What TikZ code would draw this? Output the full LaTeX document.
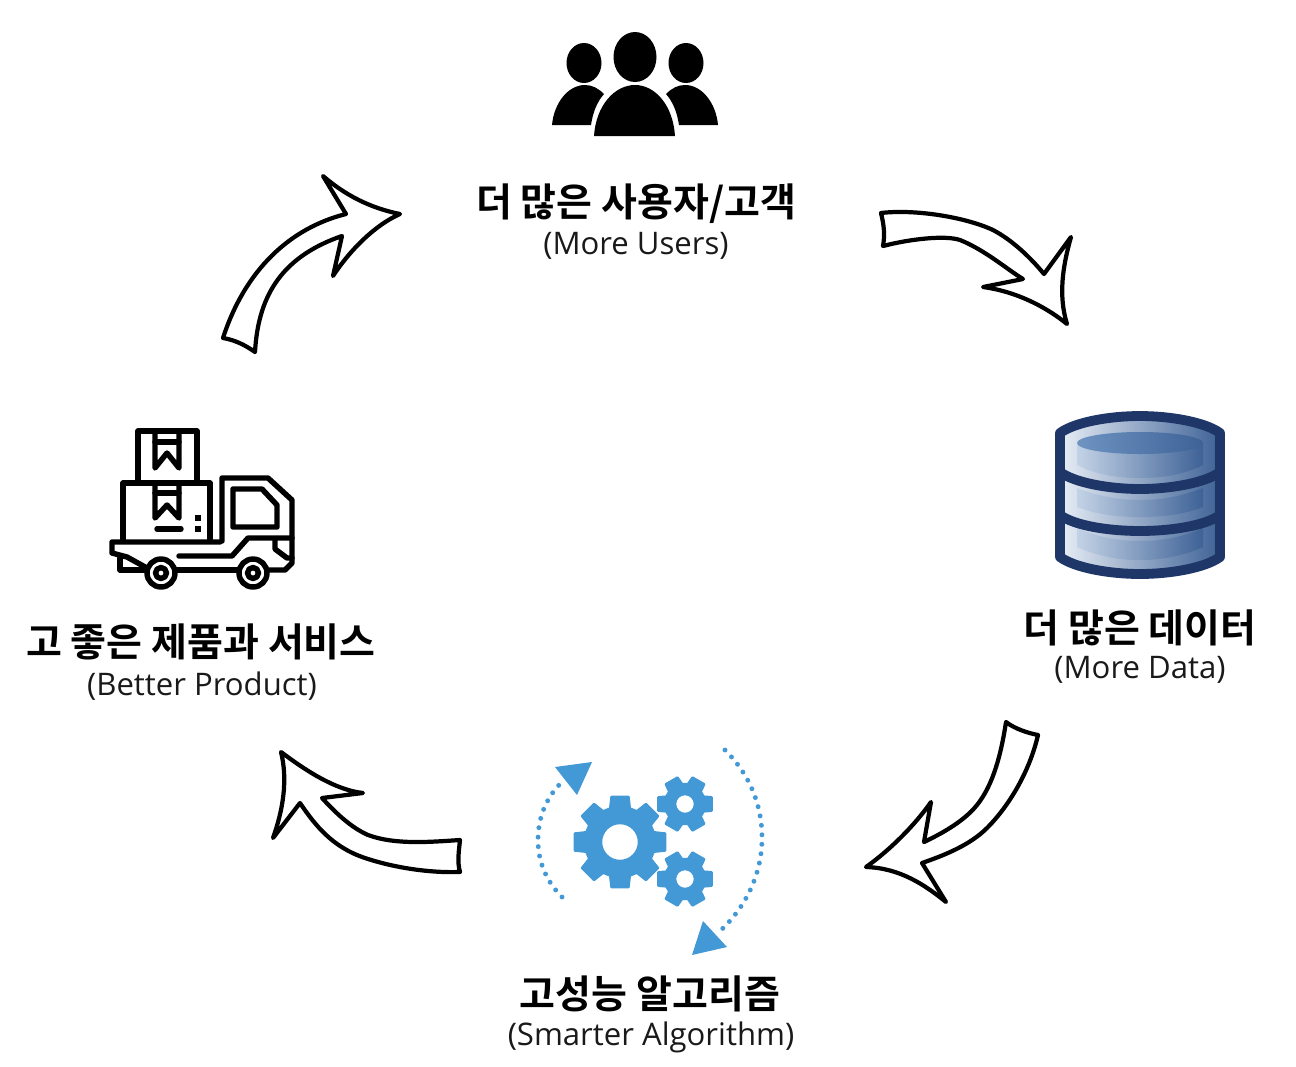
\documentclass[tikz,border=0pt]{standalone}
\usepackage{fontspec}
\usepackage{xcolor}
\setmainfont{Open Sans}
\newfontfamily\krfont{Noto Sans CJK KR}[BoldFont={* Bold}]
\usetikzlibrary{arrows.meta, positioning}
\definecolor{gearblue}{RGB}{67, 152, 214}
\definecolor{dbnavy}{RGB}{30, 54, 104}
\definecolor{dbdeep}{RGB}{62, 98, 150}
\definecolor{dbmid}{RGB}{110, 148, 194}
\definecolor{dbpale}{RGB}{232, 238, 246}
\newcommand{\gearpath}[6]{% cx, cy, tooth count, tip, root, hole
  \fill[gearblue, even odd rule, line join=round, draw=gearblue, line width=1.4pt, shift={(#1,#2)}]
    \foreach \i in {1,...,#3} {
      \ifnum\i=1 ({(\i-1)*360/#3-(130/#3)}:#5) \else -- ({(\i-1)*360/#3-(130/#3)}:#5) \fi
      -- ({(\i-1)*360/#3-(85/#3)}:#4) -- ({(\i-1)*360/#3+(85/#3)}:#4)
      -- ({(\i-1)*360/#3+(130/#3)}:#5)
    } -- cycle (0,0) circle[radius=#6];
}
\begin{document}
\begin{tikzpicture}[x=0.02cm, y=-0.02cm,
    title/.style={font=\krfont\bfseries\fontsize{22.2}{26}\selectfont, inner sep=0pt},
    subtitle/.style={font=\fontsize{17.7}{21}\selectfont, text=black!90, inner sep=0pt},
    blockarrow/.style={draw=black, fill=white, line width=2.4pt, line join=round},
    truckline/.style={draw=black, line width=3.1pt, line join=round, line cap=round},
    dbpanel/.style={left color=#1, right color=dbdeep, draw=none}]
  \useasboundingbox (0,0) rectangle (1296,1066);

  % users
  \fill (635,57) ellipse[x radius=21.5, y radius=25];
  \fill (584,63) ellipse[x radius=17.5, y radius=20];
  \fill (686,63) ellipse[x radius=17.5, y radius=20];
  \fill (594,136) .. controls (596,105) and (615,85) .. (635,85)
        .. controls (655,85) and (673,105) .. (675,136) -- cycle;
  \fill (552,125) .. controls (554,103) and (568,85) .. (585,85)
        .. controls (592,85) and (598,88) .. (604,94)
        .. controls (597,102) and (593,112) .. (591,125) -- cycle;
  \fill (718,125) .. controls (716,103) and (702,85) .. (685,85)
        .. controls (678,85) and (672,88) .. (666,94)
        .. controls (673,102) and (677,112) .. (679,125) -- cycle;
  \node[title] (userstitle) at (636,204) {더 많은 사용자/고객};
  \node[subtitle] (userssub) at (636,246) {(More Users)};

  % database
  \shade[left color=dbpale, right color=dbdeep]
    (1060,433) .. controls (1075,422) and (1110,416) .. (1140,416)
    .. controls (1170,416) and (1205,422) .. (1220,433) -- (1220,557)
    .. controls (1205,568) and (1170,574) .. (1140,574)
    .. controls (1110,574) and (1075,568) .. (1060,557) -- cycle;
  \shade[dbpanel=dbpale!70!dbmid] (1077,443) -- (1203,443) -- (1203,465)
    .. controls (1185,474) and (1165,478) .. (1140,478)
    .. controls (1115,478) and (1095,474) .. (1077,465) -- cycle;
  \shade[left color=dbmid, right color=dbdeep] (1140,443) ellipse[x radius=63, y radius=11];
  \shade[dbpanel=dbpale!70!dbmid] (1077,488) .. controls (1095,495) and (1115,500) .. (1140,500)
    .. controls (1165,500) and (1185,495) .. (1203,488) -- (1203,507)
    .. controls (1185,514) and (1165,517) .. (1140,517)
    .. controls (1115,517) and (1095,514) .. (1077,507) -- cycle;
  \shade[dbpanel=dbpale!70!dbmid] (1077,528) .. controls (1095,536) and (1115,541) .. (1140,541)
    .. controls (1165,541) and (1185,536) .. (1203,528) -- (1203,547)
    .. controls (1185,555) and (1165,560) .. (1140,560)
    .. controls (1115,560) and (1095,555) .. (1077,547) -- cycle;
  \draw[dbnavy, line width=5.6pt, line join=round]
    (1060,433) .. controls (1075,422) and (1110,416) .. (1140,416)
    .. controls (1170,416) and (1205,422) .. (1220,433) -- (1220,557)
    .. controls (1205,568) and (1170,574) .. (1140,574)
    .. controls (1110,574) and (1075,568) .. (1060,557) -- cycle;
  \draw[dbnavy, line width=5.6pt]
    (1060,472) .. controls (1075,483) and (1110,489) .. (1140,489)
    .. controls (1170,489) and (1205,483) .. (1220,472);
  \draw[dbnavy, line width=5.6pt]
    (1060,515) .. controls (1075,526) and (1110,531) .. (1140,531)
    .. controls (1170,531) and (1205,526) .. (1220,515);
  \node[title] (datatitle) at (1140,628) {더 많은 데이터};
  \node[subtitle] (datasub) at (1140,670) {(More Data)};

  % gears
  \gearpath{620}{842}{8}{46}{35}{19}
  \gearpath{685}{804}{6}{27.5}{20}{10}
  \gearpath{685}{879}{6}{27.5}{20}{10}
  \draw[gearblue, line width=2.8pt, line cap=round, dash pattern=on 0pt off 5.4pt]
    (562,897) .. controls (545,880) and (538,860) .. (538,840)
    .. controls (538,815) and (548,795) .. (563,781);
  \draw[gearblue, line width=2.8pt, line cap=round, dash pattern=on 0pt off 5.4pt]
    (725,750) .. controls (750,775) and (762,805) .. (762,838)
    .. controls (762,875) and (745,908) .. (720,931);
  \fill[gearblue] (555,767) -- (592,762) -- (577,795) -- cycle;
  \fill[gearblue] (703,921) -- (727,947) -- (692,955) -- cycle;
  \node[title] (algotitle) at (650,994) {고성능 알고리즘};
  \node[subtitle] (algosub) at (651,1037) {(Smarter Algorithm)};

  % truck
  \draw[truckline] (138,481) -- (138,431) -- (197,431) -- (197,481);
  \draw[truckline] (155,431) -- (155,468) -- (167,453) -- (179,468) -- (179,431);
  \draw[truckline] (155,442) -- (179,442);
  \draw[truckline] (123,539) -- (123,483) -- (210,483) -- (210,539);
  \draw[truckline] (155,485) -- (155,518) -- (167,505) -- (179,518) -- (179,485);
  \draw[truckline] (155,493) -- (179,493);
  \draw[truckline] (157,529) -- (181,529);
  \fill (195,515) rectangle (201,521);
  \fill (195,526) rectangle (201,532);
  \draw[truckline] (220,542) -- (112,542) -- (112,553) -- (127,557) -- (147,568);
  \draw[truckline] (120,558) -- (120,570) -- (147,570);
  \draw[truckline] (222,541) -- (222,478) -- (268,478) -- (292,500) -- (292,563) -- (285,570) -- (268,570);
  \draw[truckline] (233,489) -- (262,489) -- (277,505) -- (277,527) -- (233,527) -- cycle;
  \draw[truckline] (179,556) -- (232,556) -- (248,538) -- (292,538);
  \draw[truckline] (275,540) -- (275,549) -- (287,558) -- (292,558);
  \draw[truckline] (173,570) -- (238,570);
  \draw[truckline, fill=white] (161,573) circle[radius=14];
  \draw[truckline, fill=white] (253,573) circle[radius=14];
  \draw[truckline] (161,573) circle[radius=5.5];
  \draw[truckline] (253,573) circle[radius=5.5];
  \node[title] (trucktitle) at (201,642) {고 좋은 제품과 서비스};
  \node[subtitle] (trucksub) at (202,686) {(Better Product)};

  % hand drawn arrows
  \draw[blockarrow] (881,213) .. controls (915,209) and (965,217) .. (993,230)
    .. controls (1012,240) and (1030,257) .. (1044,274) -- (1071,237)
    .. controls (1063,265) and (1058,295) .. (1067,324)
    .. controls (1050,310) and (1020,292) .. (983,287) -- (1023,279)
    .. controls (1008,270) and (985,250) .. (960,240)
    .. controls (945,235) and (910,239) .. (883,246)
    .. controls (885,235) and (884,225) .. (881,213) -- cycle;
  \draw[blockarrow] (223,338) .. controls (235,340) and (245,345) .. (255,352)
    .. controls (258,300) and (278,258) .. (342,236) -- (333,276)
    .. controls (350,250) and (375,225) .. (400,214)
    .. controls (370,208) and (345,195) .. (323,176) -- (346,214)
    .. controls (290,228) and (245,270) .. (223,338) -- cycle;
  \draw[blockarrow] (1006,722) .. controls (1015,729) and (1028,733) .. (1038,735)
    .. controls (1030,770) and (1010,805) .. (987,828)
    .. controls (970,845) and (945,855) .. (922,863) -- (946,902)
    .. controls (925,885) and (900,868) .. (866,867)
    .. controls (890,850) and (915,825) .. (931,802) -- (924,842)
    .. controls (945,832) and (965,820) .. (977,805)
    .. controls (993,785) and (1001,755) .. (1006,722) -- cycle;
  \draw[blockarrow] (460,840) .. controls (430,842) and (395,845) .. (368,835)
    .. controls (350,827) and (335,812) .. (322,798) -- (363,793)
    .. controls (335,790) and (305,770) .. (281,752)
    .. controls (288,780) and (283,810) .. (273,838) -- (300,803)
    .. controls (315,825) and (332,847) .. (365,858)
    .. controls (395,868) and (430,873) .. (460,872)
    .. controls (457,862) and (459,850) .. (460,840) -- cycle;
\end{tikzpicture}
\end{document}
